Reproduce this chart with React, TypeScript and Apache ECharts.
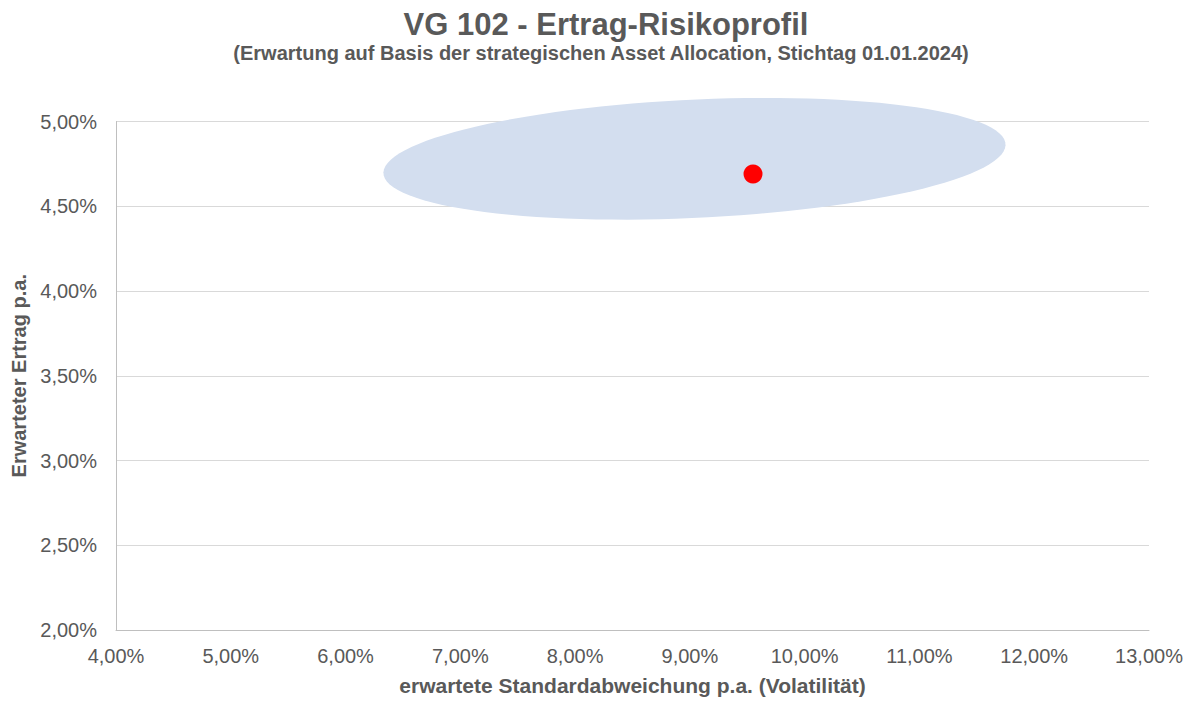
import React, { useEffect, useRef } from "react";
import * as echarts from "echarts";

const titleText = "VG 102 - Ertrag-Risikoprofil";
const subtitleText = "(Erwartung auf Basis der strategischen Asset Allocation, Stichtag 01.01.2024)";
const xAxisName = "erwartete Standardabweichung p.a. (Volatilität)";
const yAxisName = "Erwarteter Ertrag p.a.";

const xRange = [4, 13];
const yRange = [2, 5];

// portfolio point: [volatility %, return %]
const portfolioPoint = [[9.55, 4.69]];

// ellipse: center, major half-vector, minor half-vector (data units)
const ellipseCenter = [9.04, 4.78];
const ellipseMajor = [2.71, 0.08];
const ellipseMinor = [0.023, 0.35];

const fmt = (v: number) => v.toFixed(2).replace(".", ",") + "%";

export default function App() {
  const ref = useRef<HTMLDivElement>(null);
  useEffect(() => {
    if (!ref.current) return;
    const chart = echarts.init(ref.current, null, { renderer: "svg" });
    const grey = "#595959";
    const font = "'Liberation Sans', Arial, sans-serif";
    chart.setOption({
      animation: false,
      backgroundColor: "#ffffff",
      title: [
        {
          text: titleText,
          left: 601,
          top: 4,
          textAlign: "center",
          textStyle: { fontFamily: font, fontSize: 31, fontWeight: "bold", color: grey },
        },
        {
          text: subtitleText,
          left: 596,
          top: 38,
          textAlign: "center",
          textStyle: { fontFamily: font, fontSize: 20, fontWeight: "bold", color: grey },
        },
      ],
      grid: { left: 116, right: 44, top: 121.5, bottom: 70.5, containLabel: false },
      xAxis: {
        type: "value",
        min: xRange[0],
        max: xRange[1],
        interval: 1,
        name: xAxisName,
        nameLocation: "middle",
        nameGap: 45,
        nameTextStyle: { fontFamily: font, fontSize: 21, fontWeight: "bold", color: grey },
        axisLine: { show: true, lineStyle: { color: "#bfbfbf", width: 1 } },
        axisTick: { show: false },
        splitLine: { show: false },
        axisLabel: { formatter: fmt, fontFamily: font, fontSize: 20, color: grey, margin: 16 },
      },
      yAxis: {
        type: "value",
        min: yRange[0],
        max: yRange[1],
        interval: 0.5,
        name: yAxisName,
        nameLocation: "middle",
        nameGap: 86,
        nameTextStyle: { fontFamily: font, fontSize: 20, fontWeight: "bold", color: grey },
        axisLine: { show: true, lineStyle: { color: "#bfbfbf", width: 1 } },
        axisTick: { show: false },
        splitLine: { show: true, lineStyle: { color: "#d9d9d9", width: 1 } },
        axisLabel: { formatter: fmt, fontFamily: font, fontSize: 20, color: grey, margin: 19 },
      },
      series: [
        {
          type: "custom",
          data: [ellipseCenter],
          silent: true,
          z: 1,
          renderItem: (_params: any, api: any) => {
            const pts: number[][] = [];
            const n = 120;
            for (let i = 0; i < n; i++) {
              const t = (i / n) * Math.PI * 2;
              const x = ellipseCenter[0] + ellipseMajor[0] * Math.cos(t) + ellipseMinor[0] * Math.sin(t);
              const y = ellipseCenter[1] + ellipseMajor[1] * Math.cos(t) + ellipseMinor[1] * Math.sin(t);
              pts.push(api.coord([x, y]));
            }
            return {
              type: "polygon",
              shape: { points: pts },
              style: { fill: "#d3deef", stroke: "none" },
            };
          },
        },
        {
          type: "scatter",
          data: portfolioPoint,
          symbol: "circle",
          symbolSize: 19,
          z: 3,
          itemStyle: { color: "#ff0000", opacity: 1 },
        },
      ],
    });
    return () => chart.dispose();
  }, []);
  return (
    <div
      ref={ref}
      style={{ position: "absolute", left: 0, top: 0, width: 1193, height: 701 }}
    />
  );
}
